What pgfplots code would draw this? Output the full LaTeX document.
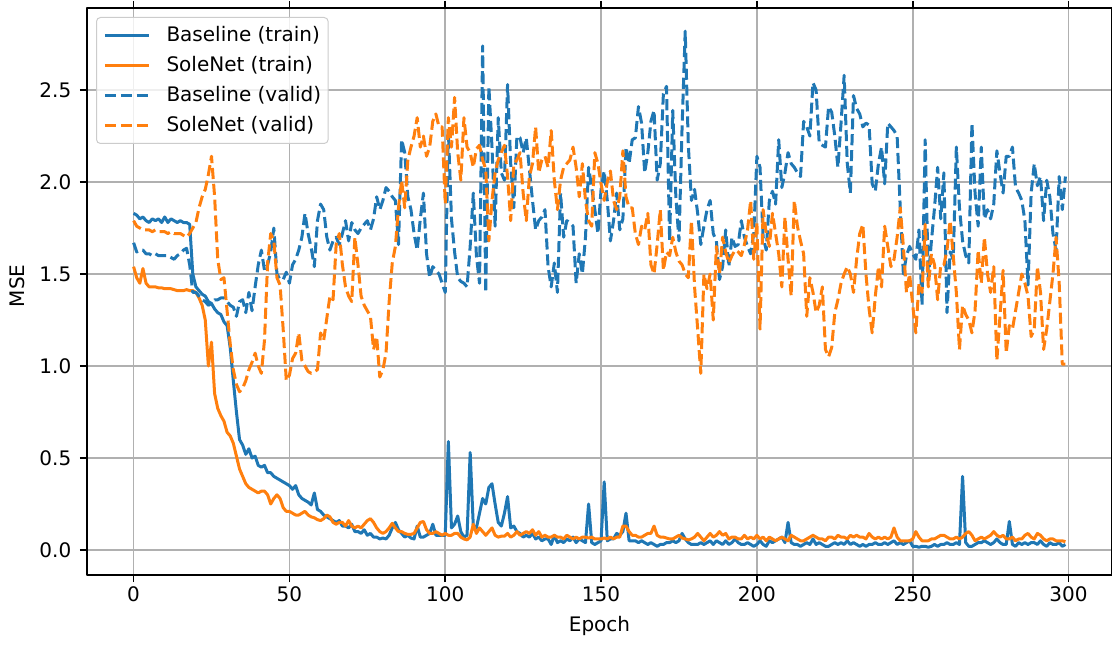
\documentclass[border=0pt]{standalone}
\usepackage{fontspec}
\setmainfont{DejaVu Sans}
\usepackage{pgfplots}
\usepackage{pgfplotstable}
\pgfplotsset{compat=1.18}
\definecolor{c0}{HTML}{1F77B4}
\definecolor{c1}{HTML}{FF7F0E}
\definecolor{gridc}{HTML}{B0B0B0}
\pgfplotstableread{
e bt st bv sv
0 1.83 1.54 1.67 1.79
1 1.82 1.48 1.62 1.76
2 1.80 1.45 1.63 1.75
3 1.81 1.53 1.63 1.74
4 1.79 1.45 1.61 1.74
5 1.78 1.43 1.61 1.74
6 1.80 1.43 1.60 1.73
7 1.79 1.43 1.61 1.74
8 1.80 1.425 1.60 1.73
9 1.78 1.425 1.60 1.73
10 1.81 1.42 1.60 1.73
11 1.78 1.42 1.60 1.72
12 1.80 1.42 1.59 1.73
13 1.79 1.415 1.58 1.72
14 1.78 1.41 1.60 1.72
15 1.79 1.41 1.61 1.72
16 1.78 1.41 1.63 1.71
17 1.78 1.415 1.64 1.70
18 1.77 1.41 1.55 1.72
19 1.50 1.41 1.40 1.75
20 1.43 1.40 1.40 1.78
21 1.41 1.37 1.38 1.86
22 1.39 1.33 1.36 1.92
23 1.38 1.25 1.35 1.96
24 1.35 1.00 1.33 2.04
25 1.34 1.13 1.34 2.14
26 1.31 0.85 1.36 1.92
27 1.29 0.77 1.36 1.58
28 1.28 0.73 1.37 1.47
29 1.24 0.70 1.37 1.48
30 1.22 0.64 1.35 1.30
31 1.10 0.62 1.33 1.12
32 0.92 0.58 1.32 0.98
33 0.75 0.51 1.27 0.90
34 0.60 0.44 1.35 0.86
35 0.57 0.40 1.36 0.88
36 0.52 0.36 1.29 0.92
37 0.55 0.34 1.40 0.98
38 0.50 0.33 1.30 1.02
39 0.51 0.32 1.43 1.07
40 0.46 0.31 1.55 1.00
41 0.45 0.32 1.63 0.96
42 0.46 0.32 1.52 1.14
43 0.42 0.30 1.55 1.56
44 0.42 0.25 1.62 1.72
45 0.40 0.28 1.75 1.68
46 0.39 0.30 1.50 1.48
47 0.38 0.28 1.47 1.44
48 0.37 0.23 1.47 1.20
49 0.36 0.21 1.51 0.92
50 0.35 0.21 1.45 0.95
51 0.33 0.20 1.55 1.04
52 0.35 0.19 1.58 1.07
53 0.30 0.19 1.63 1.18
54 0.28 0.20 1.70 1.03
55 0.27 0.21 1.83 1.00
56 0.26 0.19 1.72 0.97
57 0.245 0.18 1.64 0.96
58 0.31 0.175 1.54 0.97
59 0.22 0.165 1.79 0.98
60 0.21 0.16 1.88 1.18
61 0.19 0.17 1.85 1.14
62 0.18 0.19 1.70 1.26
63 0.17 0.18 1.63 1.38
64 0.16 0.15 1.68 1.36
65 0.15 0.14 1.70 1.66
66 0.16 0.15 1.66 1.72
67 0.13 0.15 1.72 1.55
68 0.13 0.13 1.79 1.43
69 0.12 0.16 1.68 1.38
70 0.14 0.13 1.78 1.35
71 0.10 0.12 1.74 1.70
72 0.10 0.13 1.72 1.55
73 0.09 0.12 1.75 1.38
74 0.11 0.14 1.77 1.33
75 0.08 0.16 1.79 1.30
76 0.09 0.17 1.74 1.27
77 0.07 0.15 1.80 1.09
78 0.07 0.12 1.92 1.16
79 0.06 0.10 1.85 0.94
80 0.065 0.09 1.90 0.98
81 0.06 0.10 1.97 1.07
82 0.08 0.12 1.95 1.35
83 0.12 0.145 1.92 1.56
84 0.15 0.12 1.90 1.65
85 0.11 0.10 1.66 1.86
86 0.09 0.10 2.23 2.01
87 0.07 0.09 2.16 1.86
88 0.08 0.085 1.92 2.12
89 0.065 0.085 1.85 2.19
90 0.06 0.09 1.72 2.25
91 0.13 0.12 1.63 2.35
92 0.07 0.15 1.80 2.19
93 0.07 0.155 1.94 2.25
94 0.08 0.11 1.61 2.14
95 0.09 0.09 1.48 2.19
96 0.14 0.09 1.54 2.33
97 0.08 0.10 1.52 2.37
98 0.08 0.09 1.50 2.30
99 0.08 0.08 1.45 2.30
100 0.08 0.09 1.40 1.88
101 0.59 0.08 2.28 2.35
102 0.12 0.08 1.80 2.19
103 0.14 0.09 1.62 2.46
104 0.185 0.09 1.48 2.16
105 0.10 0.07 1.46 2.01
106 0.07 0.06 1.45 2.35
107 0.08 0.055 1.43 2.19
108 0.53 0.07 1.65 2.16
109 0.13 0.14 1.94 2.08
110 0.12 0.09 1.60 2.18
111 0.20 0.12 1.45 2.20
112 0.28 0.10 2.74 2.12
113 0.25 0.08 1.40 2.07
114 0.34 0.10 2.52 1.68
115 0.36 0.12 2.19 1.90
116 0.25 0.08 1.76 2.05
117 0.15 0.07 2.35 2.12
118 0.13 0.075 2.05 2.16
119 0.20 0.075 2.01 2.20
120 0.29 0.09 2.53 2.03
121 0.12 0.07 2.10 1.79
122 0.13 0.08 1.86 2.10
123 0.10 0.10 2.25 2.12
124 0.09 0.08 2.24 2.16
125 0.07 0.09 2.16 1.94
126 0.08 0.10 2.24 1.79
127 0.07 0.09 2.07 2.03
128 0.09 0.11 1.90 2.10
129 0.06 0.08 1.74 2.30
130 0.07 0.10 1.79 2.05
131 0.05 0.07 1.81 2.12
132 0.06 0.08 1.85 2.14
133 0.06 0.07 1.54 2.08
134 0.03 0.07 1.43 2.28
135 0.08 0.08 1.56 2.01
136 0.04 0.07 1.40 1.85
137 0.05 0.07 1.94 2.01
138 0.04 0.06 1.70 2.08
139 0.06 0.08 1.79 2.10
140 0.05 0.07 1.78 2.12
141 0.07 0.06 1.76 2.19
142 0.04 0.07 1.45 2.08
143 0.06 0.06 1.61 1.92
144 0.05 0.07 1.50 2.10
145 0.04 0.07 1.70 1.90
146 0.25 0.065 2.08 1.79
147 0.04 0.07 1.97 1.76
148 0.03 0.06 1.85 2.16
149 0.04 0.06 1.72 2.10
150 0.05 0.06 1.96 1.99
151 0.37 0.065 2.06 1.90
152 0.05 0.06 1.90 2.00
153 0.06 0.07 1.68 2.06
154 0.06 0.06 1.79 1.90
155 0.09 0.07 1.94 1.85
156 0.08 0.07 1.74 1.92
157 0.10 0.13 1.80 2.17
158 0.20 0.13 2.19 1.92
159 0.05 0.10 2.10 1.86
160 0.05 0.08 2.23 1.86
161 0.05 0.08 2.24 1.72
162 0.04 0.07 2.41 1.66
163 0.05 0.07 2.32 1.76
164 0.04 0.08 2.05 1.74
165 0.03 0.09 2.16 1.83
166 0.04 0.09 2.33 1.55
167 0.03 0.13 2.39 1.50
168 0.02 0.08 2.01 1.66
169 0.03 0.07 2.10 1.85
170 0.03 0.07 2.48 1.52
171 0.04 0.065 2.52 1.62
172 0.04 0.06 1.68 1.60
173 0.05 0.06 2.39 1.70
174 0.04 0.07 1.92 1.62
175 0.05 0.08 1.68 1.57
176 0.09 0.065 2.30 1.55
177 0.06 0.06 2.82 1.50
178 0.04 0.055 2.20 1.48
179 0.03 0.06 1.90 1.79
180 0.03 0.07 1.96 1.43
181 0.03 0.09 1.83 1.20
182 0.04 0.07 1.66 0.96
183 0.03 0.05 1.76 1.50
184 0.04 0.07 1.85 1.42
185 0.05 0.09 1.90 1.50
186 0.03 0.07 1.72 1.25
187 0.05 0.08 1.68 1.65
188 0.04 0.10 1.47 1.50
189 0.03 0.08 1.54 1.70
190 0.05 0.09 1.74 1.62
191 0.03 0.06 1.54 1.56
192 0.04 0.07 1.70 1.60
193 0.06 0.07 1.65 1.63
194 0.04 0.06 1.66 1.62
195 0.03 0.06 1.79 1.60
196 0.03 0.08 1.70 1.66
197 0.04 0.06 1.65 1.74
198 0.03 0.07 1.61 1.90
199 0.02 0.06 1.72 1.58
200 0.03 0.08 2.14 1.78
201 0.05 0.06 2.08 1.20
202 0.03 0.07 1.70 1.85
203 0.02 0.05 1.63 1.72
204 0.05 0.07 1.90 1.65
205 0.04 0.06 1.95 1.83
206 0.05 0.05 1.88 1.72
207 0.06 0.06 2.23 1.61
208 0.07 0.07 1.97 1.43
209 0.04 0.06 2.05 1.81
210 0.15 0.05 2.16 1.58
211 0.04 0.08 2.10 1.38
212 0.03 0.07 2.08 1.90
213 0.03 0.06 2.05 1.76
214 0.02 0.05 2.03 1.68
215 0.03 0.05 2.33 1.61
216 0.04 0.06 2.30 1.27
217 0.03 0.07 2.25 1.48
218 0.06 0.08 2.54 1.40
219 0.03 0.07 2.50 1.29
220 0.04 0.06 2.21 1.33
221 0.03 0.06 2.20 1.43
222 0.02 0.05 2.19 1.09
223 0.02 0.07 2.41 1.05
224 0.03 0.07 2.38 1.10
225 0.04 0.06 2.25 1.29
226 0.03 0.08 2.08 1.36
227 0.04 0.07 2.32 1.45
228 0.03 0.07 2.58 1.50
229 0.05 0.06 2.10 1.54
230 0.03 0.08 1.94 1.50
231 0.04 0.07 2.47 1.40
232 0.03 0.08 2.40 1.58
233 0.02 0.07 2.37 1.72
234 0.03 0.07 2.30 1.77
235 0.02 0.06 2.32 1.50
236 0.03 0.09 2.31 1.31
237 0.03 0.07 1.99 1.18
238 0.04 0.06 1.95 1.38
239 0.03 0.07 2.10 1.54
240 0.03 0.06 2.19 1.43
241 0.04 0.07 1.99 1.76
242 0.03 0.06 2.32 1.65
243 0.04 0.07 2.30 1.54
244 0.05 0.12 2.28 1.58
245 0.03 0.07 2.25 1.70
246 0.04 0.05 1.86 1.86
247 0.03 0.05 1.50 1.65
248 0.04 0.05 1.60 1.40
249 0.05 0.05 1.65 1.50
250 0.02 0.06 1.61 1.33
251 0.02 0.10 1.58 1.18
252 0.015 0.07 1.74 1.45
253 0.02 0.05 1.33 1.40
254 0.02 0.05 2.23 1.77
255 0.015 0.05 1.47 1.43
256 0.02 0.06 1.68 1.61
257 0.03 0.06 1.86 1.55
258 0.02 0.07 2.08 1.36
259 0.03 0.08 1.80 1.55
260 0.03 0.08 2.05 1.55
261 0.04 0.07 1.29 1.63
262 0.03 0.06 1.62 1.79
263 0.03 0.06 1.58 1.60
264 0.04 0.07 2.19 1.40
265 0.03 0.06 1.86 1.09
266 0.40 0.07 1.68 1.33
267 0.04 0.09 1.60 1.28
268 0.02 0.10 1.56 1.25
269 0.02 0.08 2.32 1.18
270 0.03 0.05 1.94 1.30
271 0.04 0.06 1.76 1.63
272 0.04 0.07 2.19 1.45
273 0.05 0.06 1.80 1.70
274 0.04 0.07 1.85 1.50
275 0.03 0.08 1.80 1.40
276 0.04 0.10 1.88 1.54
277 0.06 0.08 2.17 1.03
278 0.04 0.07 2.05 1.27
279 0.03 0.08 1.94 1.52
280 0.03 0.06 2.14 1.07
281 0.155 0.06 2.14 1.22
282 0.03 0.07 2.19 1.20
283 0.02 0.05 1.97 1.30
284 0.04 0.06 1.94 1.40
285 0.03 0.06 1.90 1.50
286 0.04 0.08 1.79 1.45
287 0.03 0.09 1.44 1.38
288 0.04 0.07 1.94 1.16
289 0.04 0.06 2.10 1.20
290 0.03 0.09 1.98 1.54
291 0.05 0.08 2.03 1.40
292 0.03 0.06 1.79 1.09
293 0.02 0.05 2.01 1.20
294 0.04 0.06 1.92 1.35
295 0.03 0.06 1.72 1.50
296 0.03 0.05 1.63 1.70
297 0.04 0.05 2.03 1.45
298 0.02 0.05 1.85 1.01
299 0.03 0.045 2.03 1.01
}\data

\begin{document}
\begin{tikzpicture}
\begin{axis}[
  at={(0,0)}, anchor=south west,
  scale only axis, width=768.75pt, height=425.25pt,
  xmin=-14.95, xmax=313.95, ymin=-0.136, ymax=2.946,
  xtick={0,50,100,150,200,250,300},
  ytick={0,0.5,1,1.5,2,2.5},
  yticklabel style={/pgf/number format/fixed, /pgf/number format/fixed zerofill, /pgf/number format/precision=1, xshift=-3pt},
  /pgf/number format/assume math mode=true,
  grid=major, major grid style={gridc, line width=1.2pt},
  tick align=outside, major tick length=5.25pt,
  tick style={black, line width=1.2pt},
  axis line style={line width=1.2pt},
  ticklabel style={font=\fontsize{15}{18}\selectfont},
  label style={font=\fontsize{15}{18}\selectfont},
  xlabel={Epoch}, ylabel={MSE},
  xlabel style={at={(axis description cs:0.5,-0.0998)}, anchor=base},
  ylabel style={at={(axis description cs:-0.0605,0.51)}, anchor=base},
  legend cell align=left,
  legend image code/.code={\draw[#1] (0pt,0pt) -- (33pt,0pt);},
  legend style={at={(0,1)}, anchor=north west, xshift=6.75pt, yshift=-6.75pt,
    draw=black!20, line width=0.75pt, rounded corners=3pt, fill=white,
    fill opacity=0.8, text opacity=1, font=\fontsize{15}{18}\selectfont,
    inner xsep=5.25pt, inner ysep=6.25pt, row sep=8pt, column sep=12pt,
    nodes={inner sep=0pt, text height=11.5pt, text depth=3pt, anchor=west}},
  line join=round,
]
\addplot[c0, line width=2.25pt] table[x=e, y=bt]{\data};
\addlegendentry{Baseline (train)}
\addplot[c1, line width=2.25pt] table[x=e, y=st]{\data};
\addlegendentry{SoleNet (train)}
\addplot[c0, line width=2.25pt, dash pattern=on 8.3pt off 3.6pt] table[x=e, y=bv]{\data};
\addlegendentry{Baseline (valid)}
\addplot[c1, line width=2.25pt, dash pattern=on 8.3pt off 3.6pt] table[x=e, y=sv]{\data};
\addlegendentry{SoleNet (valid)}
\end{axis}
\pgfresetboundingbox
\path[use as bounding box] (-65.25pt,-51.75pt) rectangle (768.75pt,431.25pt);
\end{tikzpicture}
\end{document}
